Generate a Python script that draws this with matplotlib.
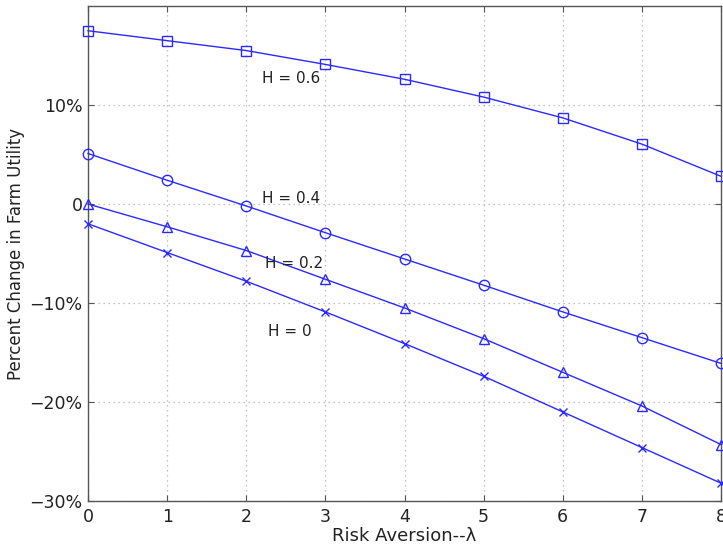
import matplotlib
matplotlib.use("Agg")
import matplotlib.pyplot as plt

plt.rcParams['font.family'] = ['DejaVu Sans']

risk = [0, 1, 2, 3, 4, 5, 6, 7, 8]
h06 = [17.5, 16.5, 15.5, 14.1, 12.6, 10.8, 8.7, 6.05, 2.8]
h04 = [5.1, 2.4, -0.2, -2.9, -5.55, -8.2, -10.9, -13.5, -16.1]
h02 = [0.0, -2.3, -4.7, -7.6, -10.5, -13.6, -17.0, -20.4, -24.3]
h00 = [-2.0, -4.9, -7.8, -10.9, -14.1, -17.4, -21.0, -24.6, -28.2]

series = [(h06, 's', 'H = 0.6', (2.2, 12.7)),
          (h04, 'o', 'H = 0.4', (2.2, 0.54)),
          (h02, '^', 'H = 0.2', (2.24, -6.06)),
          (h00, 'x', 'H = 0', (2.28, -12.9))]

yticks = [-30, -20, -10, 0, 10]
ytick_labels = ['\u221230%', '\u221220%', '\u221210%', '0', '10%']

fig = plt.figure(figsize=(7.23, 5.47), dpi=100)
ax = fig.add_axes([88/723, 1-501/547, (721-88)/723, (501-6)/547])

blue = '#2a2aff'
for vals, mk, lab, (tx, ty) in series:
    ax.plot(risk, vals, color=blue, linewidth=1.0, marker=mk,
            markersize=7.5 if mk != 'x' else 5.5, markerfacecolor='none',
            markeredgecolor=blue, markeredgewidth=1.0, clip_on=False, zorder=3)
    ax.text(tx, ty, lab, fontsize=11, color='#222222', va='center', ha='left')

ax.set_xlim(0, 8)
ax.set_ylim(-30, 20)
ax.set_xticks(risk)
ax.set_yticks(yticks)
ax.set_yticklabels(ytick_labels)
ax.tick_params(direction='in', top=True, right=True, labelsize=12.5, length=4,
               color='#555555', labelcolor='#222222')
ax.tick_params(axis='x', pad=5)
ax.tick_params(axis='y', pad=4)
ax.grid(True, linestyle=(0, (1, 3)), color='#b0b0b0', linewidth=0.9)
for s in ax.spines.values():
    s.set_color('#555555')
    s.set_linewidth(1.0)
ax.set_xlabel('Risk Aversion--\u03bb', fontsize=13, color='#222222')
ax.set_ylabel('Percent Change in Farm Utility', fontsize=12, color='#222222')
ax.xaxis.set_label_coords(0.5, -(527 - 501) / 495)
ax.yaxis.set_label_coords((25 - 88) / 633, 0.5)

fig.savefig('out.png', dpi=100)
